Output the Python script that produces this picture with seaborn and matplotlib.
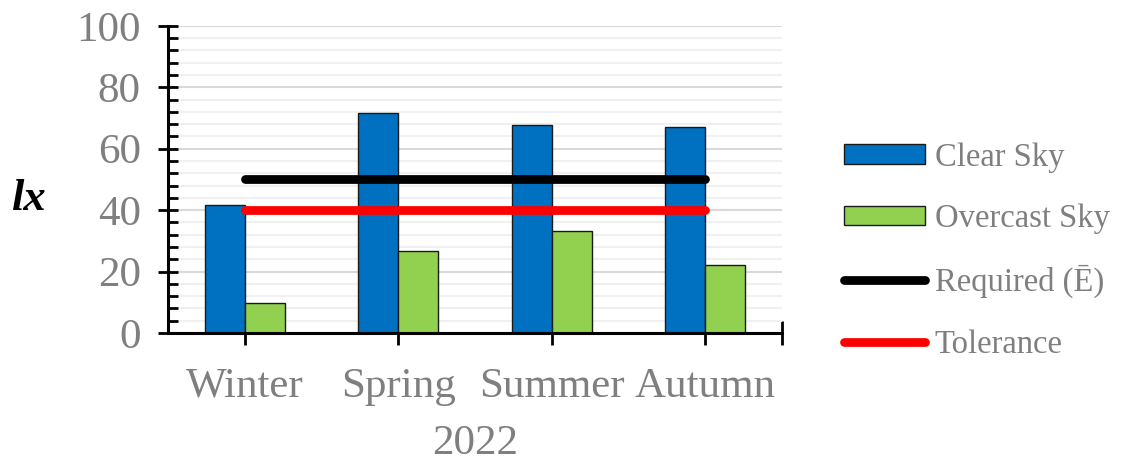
import pandas as pd
import numpy as np
import matplotlib
matplotlib.use("Agg")
import matplotlib.pyplot as plt
import seaborn as sns
from matplotlib.patches import Patch
from matplotlib.lines import Line2D

# values (lx)
seasons = ["Winter", "Spring", "Summer", "Autumn"]
clear_sky = [41.7, 71.6, 67.6, 67.2]
overcast_sky = [9.7, 26.8, 33.3, 22.1]
required = [50, 50, 50, 50]
tolerance = [40, 40, 40, 40]

df = pd.DataFrame({
    "season": seasons * 2,
    "sky": ["Clear Sky"] * 4 + ["Overcast Sky"] * 4,
    "lux": clear_sky + overcast_sky,
})

sns.set_style("white")
plt.rcParams["font.family"] = ["Liberation Serif", "DejaVu Serif"]

grey = "#7f7f7f"
blue = "#0070C0"
green = "#92D050"

fig = plt.figure(figsize=(11.27, 4.69), dpi=100)
ax = fig.add_axes([0.149, 0.29, 0.545, 0.655])

sns.barplot(data=df, x="season", y="lux", hue="sky", palette=[blue, green],
            saturation=1, width=0.52, edgecolor="#1a1a1a", linewidth=1,
            legend=False, ax=ax)

x = np.arange(len(seasons))
ax.plot(x, required, color="black", lw=6.3, solid_capstyle="round", zorder=4)
ax.plot(x, tolerance, color="#FF0000", lw=6.3, solid_capstyle="round", zorder=4)

ax.set_xlim(-0.5, 3.5)
ax.set_ylim(0, 100)
ax.set_yticks(range(0, 101, 20))
ax.set_yticks(range(0, 101, 4), minor=True)
ax.set_xticks([3.5], minor=True)

ax.grid(which="major", axis="y", color="#d9d9d9", lw=1.5)
ax.grid(which="minor", axis="y", color="#f0f0f0", lw=1.5)
ax.set_axisbelow(True)

for s in ["top", "right"]:
    ax.spines[s].set_visible(False)
for s in ["left", "bottom"]:
    ax.spines[s].set_color("black")
    ax.spines[s].set_linewidth(2.2)

ax.tick_params(axis="y", which="major", left=True, direction="inout", length=15,
               width=2, color="black", labelsize=31, labelcolor=grey, pad=12)
ax.tick_params(axis="y", which="minor", left=True, direction="in", length=7,
               width=2, color="black")
ax.tick_params(axis="x", which="both", bottom=True, direction="inout", length=17,
               width=2, color="black", labelsize=31, labelcolor=grey, pad=16)

ax.set_xlabel("2022", fontsize=31, color=grey, labelpad=14)
ax.set_ylabel("")
fig.text(0.01, 0.575, "lx", fontsize=32, fontweight="bold", fontstyle="italic",
         color="black", ha="left", va="center")

handles = [
    Patch(facecolor=blue, edgecolor="#1a1a1a", linewidth=1),
    Patch(facecolor=green, edgecolor="#1a1a1a", linewidth=1),
    Line2D([0], [0], color="black", lw=6.3, solid_capstyle="round"),
    Line2D([0], [0], color="#FF0000", lw=6.3, solid_capstyle="round"),
]
labels = ["Clear Sky", "Overcast Sky", "Required (Ē)", "Tolerance"]
fig.legend(handles, labels, loc="center left", bbox_to_anchor=(0.734, 0.465),
           frameon=False, fontsize=23.5, labelcolor=grey, handlelength=2.5,
           handleheight=0.55, handletextpad=0.3, labelspacing=0.95, borderpad=0)

fig.savefig("out.png", dpi=100)
